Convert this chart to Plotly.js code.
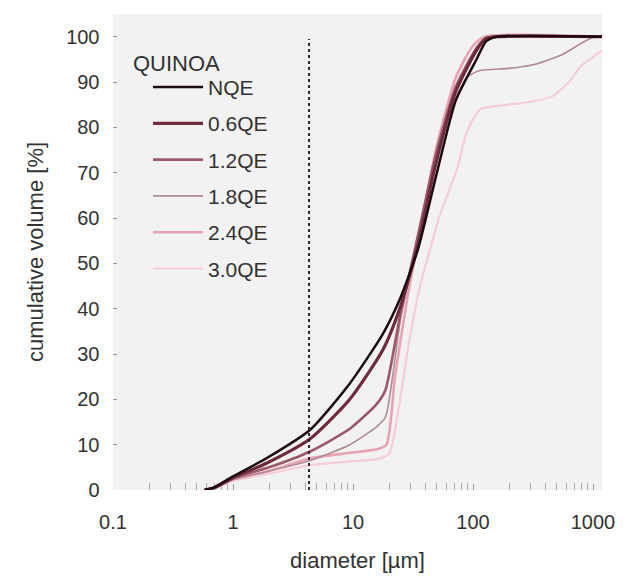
<!DOCTYPE html>
<html>
<head>
<meta charset="utf-8">
<script src="https://cdn.plot.ly/plotly-3.0.1.min.js"></script>
<style>html,body{margin:0;padding:0;background:#fff;}#chart{width:635px;height:581px;}</style>
</head>
<body>
<div id="chart"></div>
<script>
// diameters [µm] and cumulative volume [%] for each sample
const seriesNames = ["NQE", "0.6QE", "1.2QE", "1.8QE", "2.4QE", "3.0QE"];

const dNQE = [0.58, 0.7, 1.0, 1.9, 4.4, 9.4, 17.8, 24.5, 34.7, 49, 72, 107, 129, 158, 1200];
const vNQE = [0, 0.6, 3.0, 7.0, 13.3, 23.5, 34.5, 42, 53, 69, 86, 95, 99, 100, 100];

const d06 = [0.58, 0.7, 1.0, 1.9, 4.4, 9.4, 17.8, 24.5, 34.7, 49, 72, 107, 129, 158, 1200];
const v06 = [0, 0.5, 2.7, 5.9, 11.3, 20, 31, 40, 54, 72, 88, 97, 99.6, 100, 100];

const d12 = [0.58, 0.7, 1.0, 2.0, 4.4, 9.4, 15.8, 18.6, 24.5, 34.7, 49, 72, 107, 129, 158, 1200];
const v12 = [0, 0.5, 2.6, 5.0, 8.5, 13.5, 19, 22, 38, 56, 74, 89, 97.5, 99.7, 100, 100];

const d18 = [0.58, 0.7, 1.0, 2.0, 4.4, 9.4, 15.8, 18.6, 25, 35.5, 50, 71, 89, 112, 200, 316, 550, 794, 1000, 1200];
const v18 = [0, 0.5, 2.3, 4.2, 6.5, 10, 14, 16, 38, 57, 74, 86, 91, 92.5, 93, 93.8, 96, 98.5, 99.8, 100];

const d24 = [0.58, 0.7, 1.0, 2.0, 4.4, 9.4, 15.8, 19, 22.4, 28.2, 35.5, 49, 72, 100, 126, 1200];
const v24 = [0, 0.4, 2.3, 4.2, 7, 8.2, 9, 10, 25, 42, 56, 75, 91, 98, 100, 100];

const d30 = [0.58, 0.7, 1.0, 2.0, 4.4, 9.4, 15.8, 20, 24, 29.5, 35.5, 42.7, 53.7, 74, 89, 115, 200, 316, 468, 631, 794, 1000, 1200];
const v30 = [0, 0.4, 2, 3.6, 5.5, 6.3, 6.8, 8, 18, 33, 44, 52, 61, 71, 79, 84, 85, 85.7, 87, 90, 93.5, 95.5, 97];

// dotted reference line
const refD = [4.3, 4.3];
const refV = [0, 99.5];

// axis ticks
const xTickVals = [0.1, 1, 10, 100, 1000];
const xTickText = ["0.1", "1", "10", "100", "1000"];
const xMinorVals = [0.2,0.3,0.4,0.5,0.6,0.7,0.8,0.9, 2,3,4,5,6,7,8,9, 20,30,40,50,60,70,80,90, 200,300,400,500,600,700,800,900];
const yTickVals = [0, 10, 20, 30, 40, 50, 60, 70, 80, 90, 100];

const xs = [dNQE, d06, d12, d18, d24, d30];
const ys = [vNQE, v06, v12, v18, v24, v30];
const colors = ["#1c0c10", "#6e2b3b", "#9a5868", "#b08a95", "#e8a3b3", "#f5cdd6"];
const widths = [2.5, 3.2, 2.6, 1.6, 2.6, 2.2];

const traces = seriesNames.map((n, i) => ({
  x: xs[i], y: ys[i], name: n, type: "scatter", mode: "lines",
  line: {color: colors[i], width: widths[i], shape: "spline", smoothing: 0.6},
  legendgroup: "g" + i,
  zorder: seriesNames.length - i
}));
traces.push({
  x: refD, y: refV, type: "scatter", mode: "lines", showlegend: false,
  line: {color: "#2a2a2a", width: 2, dash: "dot"}, zorder: 10
});

const fam = "Liberation Sans, Arial, sans-serif";

const layout = {
  width: 635, height: 581,
  margin: {l: 113, r: 33, t: 14, b: 91},
  paper_bgcolor: "#ffffff",
  plot_bgcolor: "#f2f2f2",
  font: {family: fam, size: 20, color: "#333"},
  showlegend: true,
  legend: {
    x: 0.0716, y: 0.889, xanchor: "left", yanchor: "top",
    bgcolor: "rgba(0,0,0,0)", borderwidth: 0,
    font: {family: fam, size: 21, color: "#333"},
    traceorder: "grouped", tracegroupgap: 6, itemwidth: 50
  },
  xaxis: {
    type: "log", range: [-1, 3.075],
    tickvals: xTickVals, ticktext: xTickText,
    ticks: "inside", ticklen: 6, tickcolor: "#999",
    minor: {tickvals: xMinorVals, ticks: "inside", ticklen: 7, tickcolor: "#aaa", showgrid: false},
    showgrid: false, zeroline: false,
    showline: true, linecolor: "#666", linewidth: 1.5, mirror: true,
    ticklabelstandoff: 13,
    tickfont: {family: fam, size: 20, color: "#333"},
    title: {text: "diameter [µm]", font: {family: fam, size: 22, color: "#333"}, standoff: 21}
  },
  yaxis: {
    range: [0, 105],
    tickvals: yTickVals,
    ticks: "inside", ticklen: 4, tickcolor: "#999",
    showgrid: false, zeroline: false,
    showline: true, linecolor: "#666", linewidth: 1.5, mirror: true,
    ticklabelstandoff: 8,
    tickfont: {family: fam, size: 20, color: "#333"},
    title: {text: "cumulative volume [%]", font: {family: fam, size: 22, color: "#333"}, standoff: 16}
  },
  annotations: [{
    text: "QUINOA", xref: "paper", yref: "paper", x: 0.037, y: 0.897,
    xanchor: "left", yanchor: "middle", showarrow: false,
    font: {family: fam, size: 22, color: "#333"}
  }]
};

Plotly.newPlot("chart", traces, layout, {displayModeBar: false, staticPlot: true});
</script>
</body>
</html>
